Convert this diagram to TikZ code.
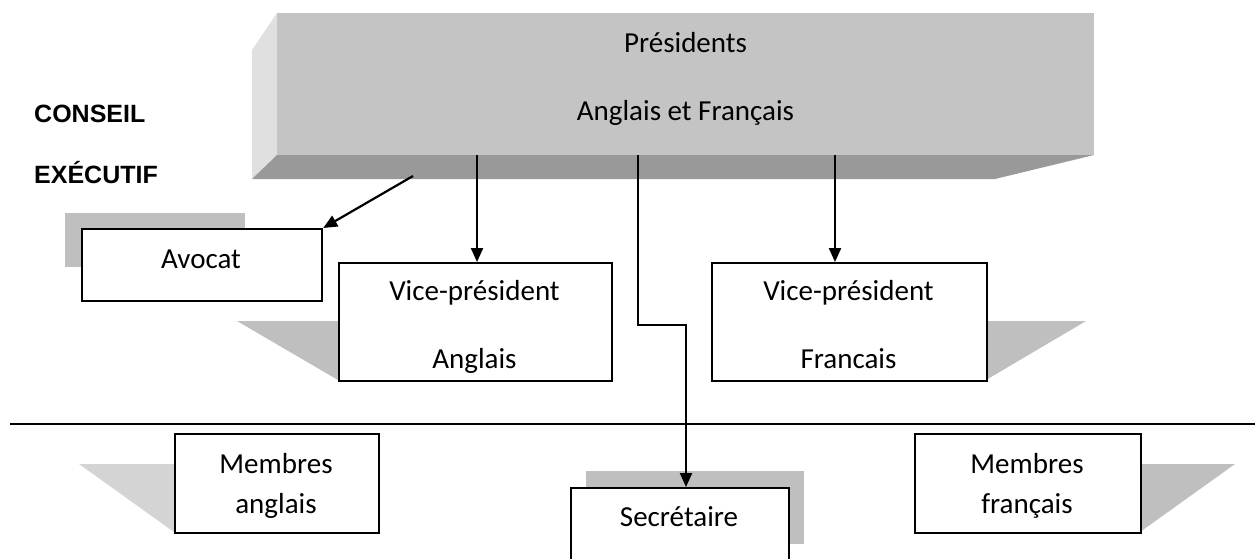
\documentclass[tikz,border=0pt]{standalone}
\usepackage{fontspec}
\setmainfont{Carlito}
\newfontfamily\headfont{Liberation Sans}
\usetikzlibrary{arrows.meta,calc}
\definecolor{frontgray}{HTML}{C4C4C4}
\definecolor{bottomgray}{HTML}{999999}
\definecolor{leftgray}{HTML}{E0E0E0}
\definecolor{shadowgray}{HTML}{BFBFBF}
\definecolor{lightshadow}{HTML}{D4D4D4}
\tikzset{
  box/.style={draw=black, line width=2.2pt, fill=white, inner sep=0pt, anchor=north west},
  txt/.style={inner sep=0pt, anchor=base, font=\fontsize{29}{35}\selectfont},
  head/.style={inner sep=0pt, anchor=base west, font=\headfont\bfseries\fontsize{25}{30}\selectfont},
  arr/.style={line width=2.2pt, -{Triangle[length=14pt,width=12pt]}},
  conn/.style={line width=2.2pt},
  shadow/.style={fill=shadowgray},
}
\begin{document}
\begin{tikzpicture}[x=1pt,y=-1pt]
\useasboundingbox (0,0) rectangle (1255,558);
\clip (0,0) rectangle (1255,558);
\fill[white] (0,0) rectangle (1255,558);

% top 3D box
\fill[leftgray] (252,50) -- (277,13) -- (277,155) -- (252,179) -- cycle;
\fill[bottomgray] (252,179) -- (277,155) -- (1094,155) -- (995,179) -- cycle;
\node[inner sep=0pt, anchor=north west, fill=frontgray, minimum width=817pt, minimum height=142pt] (pres) at (277,13) {};
\node[txt] (pres1) at (685.5,52) {Présidents};
\node[txt] (pres2) at (685.5,120) {Anglais et Français};

% heading
\node[head] (conseil) at (34,122) {CONSEIL};
\node[head] (exec) at (34,183) {EXÉCUTIF};

% Avocat
\fill[shadow] (65,213) rectangle (245,267);
\node[box, minimum width=240pt, minimum height=72pt] (avocat) at (81,228) {};
\node[txt] (avocatt) at (201,268) {Avocat};

% VP Anglais
\fill[shadow] (237,321) -- (338,321) -- (338,380) -- cycle;
\node[box, minimum width=273pt, minimum height=118pt] (vpa) at (338,262) {};
\node[txt] (vpa1) at (474.5,300.5) {Vice-président};
\node[txt] (vpa2) at (474.5,368) {Anglais};

% VP Francais
\fill[shadow] (986,321) -- (1086,321) -- (986,380) -- cycle;
\node[box, minimum width=275pt, minimum height=118pt] (vpf) at (711,262) {};
\node[txt] (vpf1) at (848.5,300.5) {Vice-président};
\node[txt] (vpf2) at (848.5,368) {Francais};

% separator
\coordinate (sepl) at (10,424);
\coordinate (sepr) at (1255,424);
\draw[conn] (sepl) -- (sepr);

% Membres anglais
\fill[lightshadow] (79,464) -- (174,464) -- (174,532) -- cycle;
\node[box, minimum width=204pt, minimum height=99pt] (ma) at (174,433) {};
\node[txt] (ma1) at (276,473) {Membres};
\node[txt] (ma2) at (276,513) {anglais};

% Membres francais
\fill[shadow] (1140,464) -- (1235,464) -- (1140,532) -- cycle;
\node[box, minimum width=226pt, minimum height=99pt] (mf) at (914,433) {};
\node[txt] (mf1) at (1027,473) {Membres};
\node[txt] (mf2) at (1027,513) {français};

% Secretaire
\fill[shadow] (586,471) rectangle (804,544);
\node[box, minimum width=218pt, minimum height=90pt] (sec) at (570,487) {};
\node[txt] (sect) at (679,526) {Secrétaire};

% connectors
\coordinate (ca) at (413,176);
\coordinate (c1) at (477,155);
\coordinate (c2) at (638,155);
\coordinate (c3) at (835,155);
\coordinate (c4) at (686,325);
\draw[arr] (ca) -- (avocat.north east);
\draw[arr] (c1) -- (c1 |- vpa.north);
\draw[arr] (c3) -- (c3 |- vpf.north);
\draw[arr] (c2) |- (c4) -- (c4 |- sec.north);
\end{tikzpicture}
\end{document}
